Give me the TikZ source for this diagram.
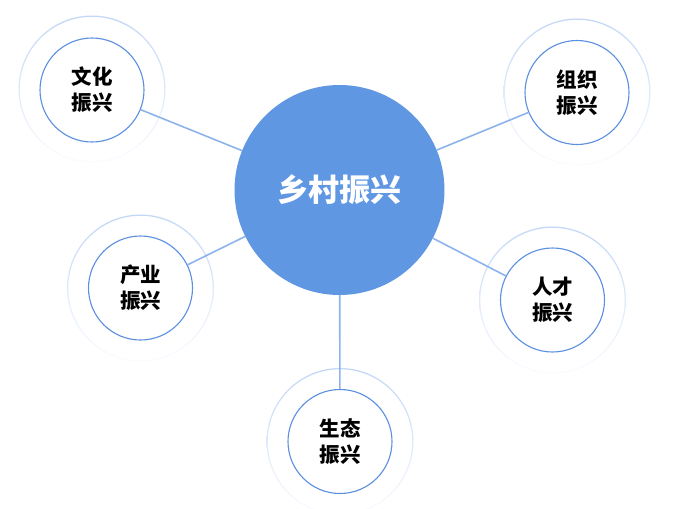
\documentclass[tikz,border=0pt]{standalone}
\usepackage{fontspec}
\newfontfamily\cjk{Noto Sans CJK SC}
\definecolor{mainblue}{HTML}{5F97E3}
\definecolor{ringblue}{HTML}{5B8FE0}
\definecolor{halo}{HTML}{C3D8F6}
\definecolor{halobot}{HTML}{FBFCFF}
\definecolor{linkblue}{HTML}{8DB3EC}
\begin{document}
\begin{tikzpicture}[x=1pt,y=-1pt,
  hub/.style={circle,fill=mainblue,minimum size=210pt,inner sep=0pt,text=white,
    font=\cjk\bfseries\fontsize{31}{36}\selectfont},
  leaf/.style={circle,draw=ringblue,line width=1.1pt,fill=white,minimum size=104pt,
    inner sep=0pt,align=center,text=black,font=\cjk\bfseries\fontsize{20.5}{26}\selectfont},
  link/.style={draw=linkblue,line width=1.6pt}]
\useasboundingbox (0,0) rectangle (678,509);
% halos
\foreach \cx/\cy in {92/89, 577/92, 140.5/288, 552.5/300, 340/441.5}{
  \shade[top color=halo,bottom color=halobot,even odd rule]
    (\cx,\cy) circle (73.5pt) (\cx,\cy) circle (72.2pt);
}
\node[hub] (hub) at (339.5,190) {乡村振兴};
\node[leaf] (wh) at (92,90) {文化\\振兴};
\node[leaf] (zz) at (577,92.5) {组织\\振兴};
\node[leaf] (cy) at (140.5,288) {产业\\振兴};
\node[leaf] (rc) at (552.5,300) {人才\\振兴};
\node[leaf] (st) at (340,441.5) {生态\\振兴};
\foreach \n in {wh,zz,cy,rc,st}{
  \draw[link] (hub) -- (\n);
}
\end{tikzpicture}
\end{document}
